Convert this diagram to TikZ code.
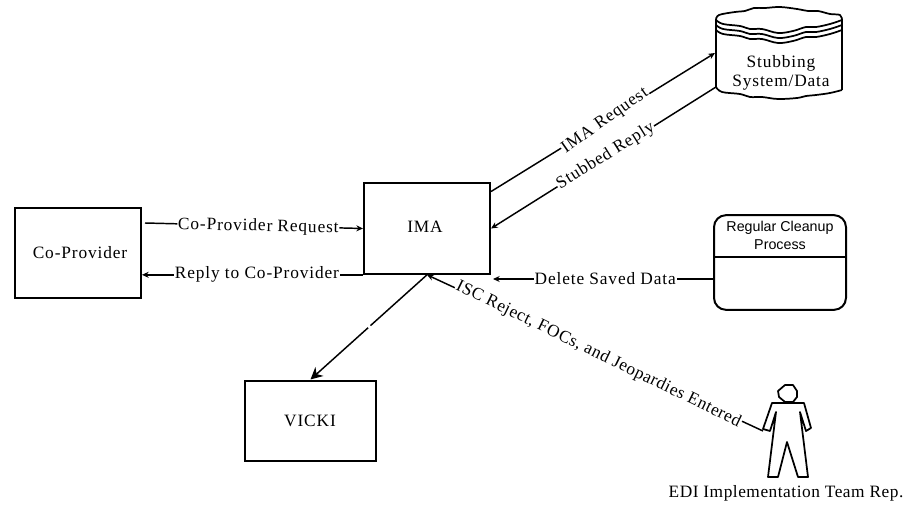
\documentclass[tikz,border=0pt]{standalone}
\usepackage{fontspec}
\setmainfont{Liberation Serif}
\newfontfamily\boxfont{Liberation Sans}
\usetikzlibrary{arrows.meta,calc}

\tikzset{
	block/.style={draw, line width=1.5pt, minimum width=94.5pt, minimum height=68pt, inner sep=0pt},
	lbl/.style={fill=white, inner sep=0.6pt, font=\fontsize{13}{15}\selectfont\addfontfeature{LetterSpace=5}},
	txt/.style={inner sep=0pt, font=\fontsize{13}{15}\selectfont\addfontfeature{LetterSpace=5}},
	flow/.style={line width=1.1pt, -{Stealth[length=5pt,width=4.5pt]}},
	outline/.style={line width=1.3pt, line join=round}
}

\begin{document}
\begin{tikzpicture}[x=0.75pt,y=-0.75pt]
	\useasboundingbox (0,0) rectangle (904,506);

	% boxes
	\node[block] (coprov) at (78,253) {};
	\node[txt] at (80,253) {Co-Provider};
	\node[block] (ima) at (427,228.5) {};
	\node[txt] at (425,227) {IMA};
	\node[block, minimum width=98pt, minimum height=60pt] (vicki) at (310.5,420.5) {};
	\node[txt] at (310,421) {VICKI};

	% cleanup process
	\node[draw, line width=1.5pt, rounded corners=9pt, minimum width=99pt, minimum height=71pt, inner sep=0pt] (cleanup) at (780,262.5) {};
	\draw[line width=1.5pt] (714,257) -- (846,257);
	\node[inner sep=0pt, align=center, font=\boxfont\fontsize{10.7}{13}\selectfont] at (780,235.5) {Regular Cleanup\\Process};

	% stubbing data store
	\coordinate (stubReq) at (715,53);
	\coordinate (stubRep) at (716,87);
	\draw[outline] plot[smooth, tension=0.6] coordinates {(716,20) (719,15) (735,12) (745,11) (754,8) (765,8) (780,7) (797,9) (808,11) (818,11) (830,14) (840,15) (842,20)};
	\foreach \y in {0,5,10}
	{
		\draw[outline, yshift=-\y*0.75pt] plot[smooth, tension=0.6] coordinates {(716,20) (723,24) (740,26) (750,29) (762,29) (778,33) (793,31) (806,27) (816,27) (830,24) (842,20)};
	}
	\draw[outline] (716,20) -- (716,87);
	\draw[outline] (842,20) -- (842,90);
	\draw[outline] plot[smooth, tension=0.6] coordinates {(716,87) (722,92) (740,94) (750,97) (762,97) (778,99) (797,98) (806,96) (816,95) (830,93) (842,90)};
	\node[txt, align=center, font=\fontsize{13}{14.25}\selectfont\addfontfeature{LetterSpace=5}] (stub) at (781,72.5) {Stubbing\\System/Data};

	% team rep figure
	\draw[outline] (785,385) -- (793,385) -- (797,391) -- (797,397) -- (793,402) -- (785,402) -- (779,397) -- (778,391) -- cycle;
	\draw[outline] (772,403) -- (804,403) -- (811,428) -- (806,431) -- (800,412) -- (808,477) -- (798,477) -- (787,442) -- (778,477) -- (768,477) -- (776,412) -- (770,431) -- (763,429) -- cycle;
	\coordinate (hand) at (763,431);
	\node[txt, font=\fontsize{13}{15}\selectfont\addfontfeature{LetterSpace=3}] (rep) at (786,493) {EDI Implementation Team Rep.};

	% flows
	\coordinate (reqStart) at (145,223);
	\coordinate (delTip) at (493,279);
	\draw[flow] (reqStart) -- (ima.west) node[lbl, pos=0.52, rotate=-1.3, yshift=-0.7pt] {Co-Provider Request};
	\draw[flow] (ima.south west) -- (coprov.east |- ima.south west) node[lbl, pos=0.48] {Reply to Co-Provider};
	\draw[flow] (ima.30.8) -- (stubReq) node[lbl, pos=0.51, rotate=35] {IMA Request};
	\draw[flow] (stubRep) -- (ima.east) node[lbl, pos=0.49, rotate=32] {Stubbed Reply};
	\draw[flow] (cleanup.west |- delTip) -- (delTip) node[lbl, pos=0.49] {Delete Saved Data};
	\draw[flow] (hand) -- (ima.south) node[lbl, pos=0.49, rotate=-26, font=\fontsize{13}{15}\selectfont\addfontfeature{LetterSpace=3.5}] {ISC Reject, FOCs, and Jeopardies Entered};

	% vicki line has a small break in it
	\path (ima.south) -- (vicki.north) coordinate[pos=0.485] (gapA) coordinate[pos=0.505] (gapB);
	\draw[line width=1.1pt] (ima.south) -- (gapA);
	\draw[line width=1.1pt, -{Stealth[length=9pt,width=9pt]}] (gapB) -- (vicki.north);
\end{tikzpicture}
\end{document}
